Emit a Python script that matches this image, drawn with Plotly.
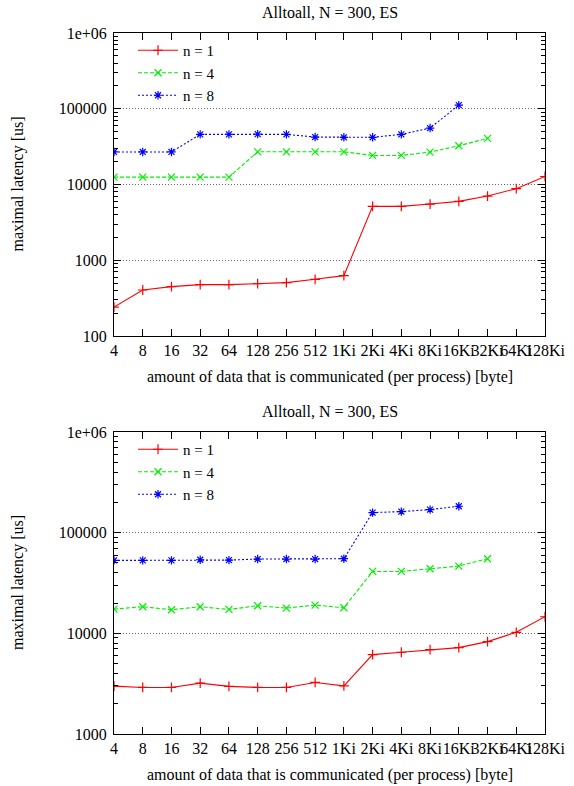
import plotly.graph_objects as go

# Message sizes per process (x categories)
sizes = ["4", "8", "16", "32", "64", "128", "256", "512",
         "1Ki", "2Ki", "4Ki", "8Ki", "16Ki", "32Ki", "64Ki", "128Ki"]

# Upper panel: maximal latency [us]
top_n1 = [241, 405, 448, 476, 476, 491, 506, 560, 626,
          5140, 5140, 5520, 5980, 7040, 8810, 12750]
top_n4 = [12500, 12500, 12500, 12500, 12500, 27000, 27000, 27000, 27000,
          24200, 24200, 26800, 32500, 40600]
top_n8 = [26900, 26900, 26900, 45900, 45900, 46200, 45900, 42300, 42000,
          42000, 45900, 55600, 111700]

# Lower panel: maximal latency [us]
bot_n1 = [2990, 2900, 2900, 3200, 2970, 2900, 2900, 3250, 3010,
          6150, 6490, 6890, 7210, 8270, 10230, 14620]
bot_n4 = [17400, 18370, 17150, 18370, 17280, 18790, 17820, 19080, 17950,
          41200, 41200, 43800, 46500, 55100]
bot_n8 = [53000, 53000, 53000, 53800, 53400, 54700, 54700, 54700, 55100,
          158300, 161900, 169500, 183000]

series_names = ["n = 1", "n = 4", "n = 8"]
title_text = "Alltoall, N = 300, ES"
ylabel = "maximal latency [us]"
xlabel = "amount of data that is communicated (per process) [byte]"

FONT = "Liberation Serif"
FS = 16
W, H = 574, 786

styles = [
    dict(color="#ff0000", dash="solid", symbol="cross-thin-open"),
    dict(color="#00f000", dash="4px,2px", symbol="x-thin-open"),
    dict(color="#0000ff", dash="2px,2px", symbol="asterisk-open"),
]

# pixel geometry of the two plot boxes
x0_px, x1_px = 114, 545
panels = [
    dict(top=33, bot=336, data=[top_n1, top_n4, top_n8], yr=(2, 6),
         xa="x", ya="y", legend="legend"),
    dict(top=432, bot=734, data=[bot_n1, bot_n4, bot_n8], yr=(3, 6),
         xa="x2", ya="y2", legend="legend2"),
]

fig = go.Figure()

for p in panels:
    for name, vals, st in zip(series_names, p["data"], styles):
        fig.add_trace(go.Scatter(
            x=sizes[:len(vals)], y=vals, name=name,
            mode="lines+markers",
            line=dict(color=st["color"], dash=st["dash"], width=1.1),
            marker=dict(symbol=st["symbol"], size=7,
                        line=dict(color=st["color"], width=1.2)),
            xaxis=p["xa"], yaxis=p["ya"], legend=p["legend"],
        ))

layout = dict(
    width=W, height=H,
    margin=dict(l=0, r=0, t=0, b=0, autoexpand=False),
    paper_bgcolor="white", plot_bgcolor="white",
    font=dict(family=FONT, size=FS, color="black"),
    showlegend=True,
    annotations=[],
)


def yd(px):
    return 1 - px / H


for i, p in enumerate(panels):
    sfx = "" if i == 0 else str(i + 1)
    lo, hi = p["yr"]
    major = [10 ** k for k in range(lo, hi + 1)]
    major_txt = [str(v) if v < 10 ** 6 else "1e+06" for v in major]
    minor = [m * 10 ** k for k in range(lo, hi) for m in range(2, 10)]
    layout["xaxis" + sfx] = dict(
        domain=[x0_px / W, x1_px / W],
        anchor="y" + sfx, automargin=False,
        type="category", categoryorder="array", categoryarray=sizes,
        range=[0, len(sizes) - 1],
        tickmode="array", tickvals=sizes, ticktext=sizes,
        tickangle=0, ticks="inside", ticklen=7, tickcolor="black",
        showline=True, linecolor="black", linewidth=1, mirror="ticks",
        showgrid=False, zeroline=False,
        tickfont=dict(family=FONT, size=FS),
    )
    layout["yaxis" + sfx] = dict(
        domain=[yd(p["bot"]), yd(p["top"])],
        anchor="x" + sfx, automargin=False,
        type="log", range=[lo, hi],
        tickmode="array", tickvals=major, ticktext=major_txt,
        ticks="inside", ticklen=7, tickcolor="black", ticklabelstandoff=3,
        minor=dict(tickmode="array", tickvals=minor, ticks="inside",
                   ticklen=4, tickcolor="black", showgrid=False),
        showline=True, linecolor="black", linewidth=1, mirror="ticks",
        showgrid=True, gridcolor="#666666", griddash="1px,2px", gridwidth=1,
        zeroline=False,
        tickfont=dict(family=FONT, size=FS),
    )
    layout[p["legend"]] = dict(
        x=133 / W, y=yd(p["top"] + 1), xanchor="left", yanchor="top",
        bgcolor="rgba(0,0,0,0)", font=dict(family=FONT, size=15),
        tracegroupgap=0, itemwidth=40,
    )
    mid_x = (x0_px + x1_px) / 2 / W
    layout["annotations"] += [
        dict(text=title_text, x=mid_x, y=yd(p["top"] - 21), xref="paper",
             yref="paper", showarrow=False, xanchor="center", yanchor="middle",
             font=dict(family=FONT, size=FS)),
        dict(text=xlabel, x=mid_x, y=yd(p["bot"] + 41), xref="paper",
             yref="paper", showarrow=False, xanchor="center", yanchor="middle",
             font=dict(family=FONT, size=FS)),
        dict(text=ylabel, x=18 / W, y=yd((p["top"] + p["bot"]) / 2),
             xref="paper", yref="paper", showarrow=False, textangle=-90,
             xanchor="center", yanchor="middle",
             font=dict(family=FONT, size=FS)),
    ]

fig.update_layout(**layout)
fig.write_html("out.html")
